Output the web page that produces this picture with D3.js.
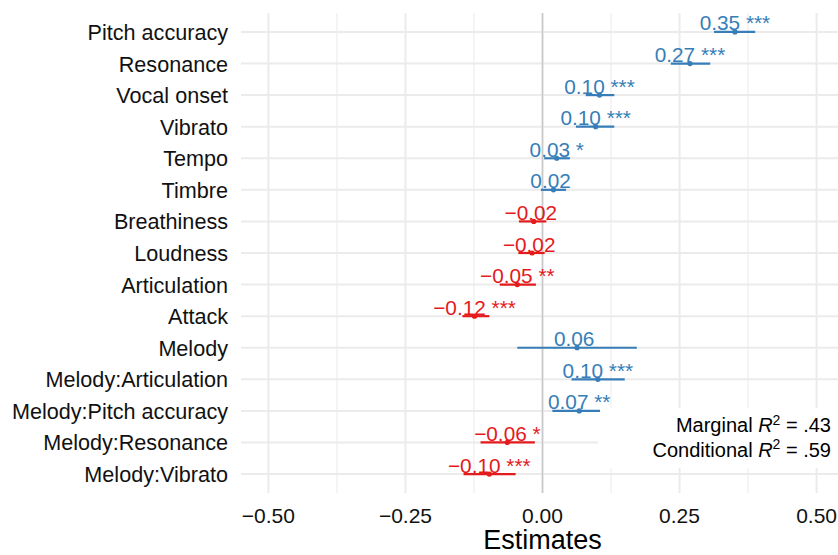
<!DOCTYPE html>
<html>
<head>
<meta charset="utf-8">
<script src="https://cdn.jsdelivr.net/npm/d3@7"></script>
<style>
  body { margin: 0; background: #fff; }
  text { font-family: "Liberation Sans", Arial, Helvetica, sans-serif; }
</style>
</head>
<body>
<div id="vis"></div>
<script>
// frame size and panel edges
const FRAME_WIDTH = 838;
const FRAME_HEIGHT = 555;
const PANEL = {left: 241, right: 844, top: 13, bottom: 493};

// model terms, top to bottom
const terms = ["Pitch accuracy", "Resonance", "Vocal onset", "Vibrato", "Tempo", "Timbre",
  "Breathiness", "Loudness", "Articulation", "Attack", "Melody", "Melody:Articulation",
  "Melody:Pitch accuracy", "Melody:Resonance", "Melody:Vibrato"];
// estimates and confidence limits
const estimates = [0.351, 0.269, 0.104, 0.097, 0.026, 0.020, -0.016, -0.019, -0.046, -0.124,
  0.063, 0.101, 0.067, -0.064, -0.097];
const lower = [0.313, 0.234, 0.079, 0.061, 0.003, -0.003, -0.043, -0.044, -0.078, -0.146,
  -0.046, 0.053, 0.018, -0.113, -0.144];
const upper = [0.388, 0.306, 0.131, 0.131, 0.050, 0.043, 0.007, 0.004, -0.012, -0.097,
  0.172, 0.150, 0.105, -0.014, -0.049];
const stars = ["***", "***", "***", "***", "*", "", "", "", "**", "***", "", "***", "**", "*", "***"];

// x axis ticks
const xTicks = [-0.5, -0.25, 0, 0.25, 0.5];
const xTickLabels = ["\u22120.50", "\u22120.25", "0.00", "0.25", "0.50"];
const xMinor = [-0.375, -0.125, 0.125, 0.375];

const BLUE = "#377eb8";
const RED = "#e41a1c";

const rows = terms.map((t, i) => ({term: t, est: estimates[i], lo: lower[i], hi: upper[i], p: stars[i]}));

const svg = d3.select("#vis").append("svg")
  .attr("width", FRAME_WIDTH)
  .attr("height", FRAME_HEIGHT);

const X_SCALE = d3.scaleLinear().domain([-0.55, 0.55]).range([PANEL.left, PANEL.right]);
const Y_SCALE = d3.scalePoint().domain(terms).range([PANEL.top, PANEL.bottom]).padding(0.6);

// grid
svg.append("g").selectAll("line").data(xMinor).enter().append("line")
  .attr("x1", d => X_SCALE(d)).attr("x2", d => X_SCALE(d))
  .attr("y1", PANEL.top).attr("y2", PANEL.bottom)
  .attr("stroke", "#ececec").attr("stroke-width", 1.1);
svg.append("g").selectAll("line").data(xTicks).enter().append("line")
  .attr("x1", d => X_SCALE(d)).attr("x2", d => X_SCALE(d))
  .attr("y1", PANEL.top).attr("y2", PANEL.bottom)
  .attr("stroke", "#ebebeb").attr("stroke-width", 2);
svg.append("g").selectAll("line").data(terms).enter().append("line")
  .attr("x1", PANEL.left).attr("x2", PANEL.right)
  .attr("y1", d => Y_SCALE(d)).attr("y2", d => Y_SCALE(d))
  .attr("stroke", "#ebebeb").attr("stroke-width", 2);

// zero line
svg.append("line")
  .attr("x1", X_SCALE(0)).attr("x2", X_SCALE(0))
  .attr("y1", PANEL.top).attr("y2", PANEL.bottom)
  .attr("stroke", "#c8c8c8").attr("stroke-width", 1.5);

// white box behind the R2 note
svg.append("rect")
  .attr("x", 598).attr("y", 408).attr("width", 246).attr("height", 60)
  .attr("fill", "#fff");

const colour = d => d.est < 0 ? RED : BLUE;

// error bars
svg.append("g").selectAll("line").data(rows).enter().append("line")
  .attr("x1", d => X_SCALE(d.lo)).attr("x2", d => X_SCALE(d.hi))
  .attr("y1", d => Y_SCALE(d.term)).attr("y2", d => Y_SCALE(d.term))
  .attr("stroke", colour).attr("stroke-width", 2.2);

// points
svg.append("g").selectAll("circle").data(rows).enter().append("circle")
  .attr("cx", d => X_SCALE(d.est)).attr("cy", d => Y_SCALE(d.term))
  .attr("r", 2.6).attr("fill", colour);

// value labels
const fmt = v => (v < 0 ? "\u2212" : "") + Math.abs(v).toFixed(2);
svg.append("g").selectAll("text").data(rows).enter().append("text")
  .attr("x", d => X_SCALE(d.est)).attr("y", d => Y_SCALE(d.term) - 1.5)
  .attr("text-anchor", "middle")
  .attr("font-size", "20.8px")
  .attr("fill", colour)
  .style("white-space", "pre")
  .text(d => fmt(d.est) + " " + d.p);

// y labels
svg.append("g").selectAll("text").data(terms).enter().append("text")
  .attr("x", 228).attr("y", d => Y_SCALE(d) + 8)
  .attr("text-anchor", "end")
  .attr("font-size", "21.6px")
  .attr("fill", "#111")
  .text(d => d);

// x tick labels
svg.append("g").selectAll("text").data(xTicks).enter().append("text")
  .attr("x", d => X_SCALE(d)).attr("y", 522.7)
  .attr("text-anchor", "middle")
  .attr("font-size", "21px")
  .attr("fill", "#111")
  .text((d, i) => xTickLabels[i]);

// axis title
svg.append("text")
  .attr("x", X_SCALE(0)).attr("y", 549)
  .attr("text-anchor", "middle")
  .attr("font-size", "27px")
  .attr("fill", "#000")
  .text("Estimates");

// R2 note
const notes = [["Marginal ", ".43"], ["Conditional ", ".59"]];
notes.forEach((n, i) => {
  const t = svg.append("text")
    .attr("x", 831).attr("y", 432.3 + i * 24.4)
    .attr("text-anchor", "end")
    .attr("font-size", "20px")
    .attr("fill", "#000")
    .style("white-space", "pre");
  t.append("tspan").text(n[0]);
  t.append("tspan").attr("font-style", "italic").text("R");
  t.append("tspan").attr("font-size", "14px").attr("dy", -7.5).text("2");
  t.append("tspan").attr("dy", 7.5).text(" = " + n[1]);
});
</script>
</body>
</html>
